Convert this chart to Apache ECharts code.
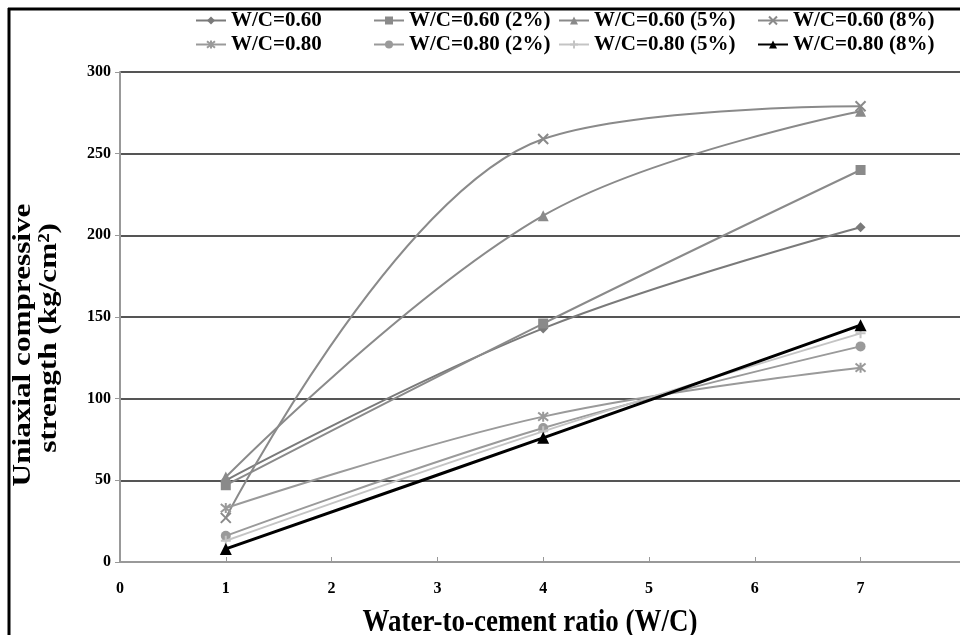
<!DOCTYPE html>
<html>
<head>
<meta charset="utf-8">
<script src="https://cdn.jsdelivr.net/npm/echarts@6/dist/echarts.min.js"></script>
<style>
html,body{margin:0;padding:0;background:#fff;}
#chart{width:960px;height:635px;}
</style>
</head>
<body>
<div id="chart"></div>
<script>
// ---- data ----
var xValues = [1, 4, 7];
var seriesNames = ['W/C=0.60', 'W/C=0.60 (2%)', 'W/C=0.60 (5%)', 'W/C=0.60 (8%)',
                   'W/C=0.80', 'W/C=0.80 (2%)', 'W/C=0.80 (5%)', 'W/C=0.80 (8%)'];
var wc60    = [50, 143, 205];
var wc60_2  = [47, 146, 240];
var wc60_5  = [52, 212, 276];
var wc60_8  = [27, 259, 279];
var wc80    = [33, 89, 119];
var wc80_2  = [16, 82, 132];
var wc80_5  = [13, 80, 140];
var wc80_8  = [8, 76, 145];
var yTicks = [0, 50, 100, 150, 200, 250, 300];
var xTicks = [0, 1, 2, 3, 4, 5, 6, 7];
var xTitle = 'Water-to-cement ratio (W/C)';
var yTitle = ['Uniaxial compressive', 'strength (kg/cm²)'];

var allValues = [wc60, wc60_2, wc60_5, wc60_8, wc80, wc80_2, wc80_5, wc80_8];

var xPath = 'path://M0,0L10,10M10,0L0,10';
var starPath = 'path://M0,0L10,10M10,0L0,10M5,-1L5,11';
var plusPath = 'path://M0,5L10,5M5,0L5,10';

var styles = [
  {color:'#7a7a7a', symbol:'diamond', size:10, width:2},
  {color:'#8a8a8a', symbol:'rect', size:10, width:2},
  {color:'#8a8a8a', symbol:'triangle', size:11, width:2},
  {color:'#8a8a8a', symbol:xPath, size:10, width:2},
  {color:'#9a9a9a', symbol:starPath, size:10, width:2},
  {color:'#9a9a9a', symbol:'circle', size:10, width:2},
  {color:'#c4c4c4', symbol:plusPath, size:10, width:2},
  {color:'#000000', symbol:'triangle', size:12, width:3}
];

var FONT = '"Liberation Serif", "Times New Roman", serif';

var series = seriesNames.map(function(name, i){
  var st = styles[i];
  var isPath = st.symbol.indexOf('path://') === 0;
  return {
    name: name,
    type: 'line',
    smooth: 0.38,
    data: xValues.map(function(x, j){ return [x, allValues[i][j]]; }),
    symbol: st.symbol,
    symbolSize: st.size,
    showAllSymbol: true,
    z: i === 7 ? 10 : 2 + i,
    lineStyle: {color: st.color, width: st.width},
    itemStyle: isPath ? {color: 'none', borderColor: st.color, borderWidth: 2}
                      : {color: st.color, borderColor: st.color, borderWidth: 0},
    emphasis: {disabled: true},
    animation: false
  };
});

function legendCol(left, names){
  return {
    orient: 'vertical',
    left: left,
    top: 5,
    itemGap: 3,
    itemWidth: 30,
    itemHeight: 10,
    data: names,
    textStyle: {fontFamily: FONT, fontWeight: 'bold', fontSize: 21, color: '#000'},
    selectedMode: false
  };
}

var chart = echarts.init(document.getElementById('chart'), null, {renderer: 'canvas'});
chart.setOption({
  backgroundColor: '#ffffff',
  animation: false,
  legend: [
    legendCol(190, [seriesNames[0], seriesNames[4]]),
    legendCol(368, [seriesNames[1], seriesNames[5]]),
    legendCol(553, [seriesNames[2], seriesNames[6]]),
    legendCol(752, [seriesNames[3], seriesNames[7]])
  ],
  grid: {left: 120, right: 0, top: 72, bottom: 73, containLabel: false, outerBoundsMode: 'none'},
  xAxis: {
    type: 'value',
    min: 0,
    max: 7.94,
    interval: 1,
    axisLine: {show: true, lineStyle: {color: '#999', width: 2}},
    axisTick: {show: true, inside: true, length: 5, lineStyle: {color: '#999'}},
    axisLabel: {
      showMaxLabel: false,
      margin: 19,
      fontFamily: FONT, fontWeight: 'bold', fontSize: 16, color: '#000',
      formatter: function(v){ return xTicks.indexOf(v) >= 0 ? String(v) : ''; }
    },
    splitLine: {show: false}
  },
  yAxis: {
    type: 'value',
    min: 0,
    max: 300,
    interval: 50,
    axisLine: {show: true, lineStyle: {color: '#999', width: 2}},
    axisTick: {show: true, inside: false, length: 5, lineStyle: {color: '#999'}},
    axisLabel: {
      margin: 9,
      fontFamily: FONT, fontWeight: 'bold', fontSize: 16, color: '#000',
      formatter: function(v){ return yTicks.indexOf(v) >= 0 ? String(v) : ''; }
    },
    splitLine: {show: true, lineStyle: {color: '#555', width: 2}}
  },
  graphic: [
    {type: 'line', shape: {x1: 9, y1: 8, x2: 9, y2: 635}, style: {stroke: '#000', lineWidth: 3}, silent: true},
    {type: 'line', shape: {x1: 8, y1: 9, x2: 960, y2: 9}, style: {stroke: '#000', lineWidth: 3}, silent: true},
    {type: 'text', x: 530, y: 623, scaleX: 1, scaleY: 1.15, silent: true,
     style: {text: xTitle, font: 'bold 27px ' + FONT, fill: '#000', textAlign: 'center', textVerticalAlign: 'middle'}},
    {type: 'text', x: 23, y: 345, rotation: Math.PI / 2, scaleX: 1.2, scaleY: 1, silent: true,
     style: {text: yTitle[0], font: 'bold 26px ' + FONT, fill: '#000', textAlign: 'center', textVerticalAlign: 'middle'}},
    {type: 'text', x: 49, y: 338, rotation: Math.PI / 2, scaleX: 1.2, scaleY: 1, silent: true,
     style: {text: yTitle[1], font: 'bold 26px ' + FONT, fill: '#000', textAlign: 'center', textVerticalAlign: 'middle'}}
  ],
  series: series
});
</script>
</body>
</html>
